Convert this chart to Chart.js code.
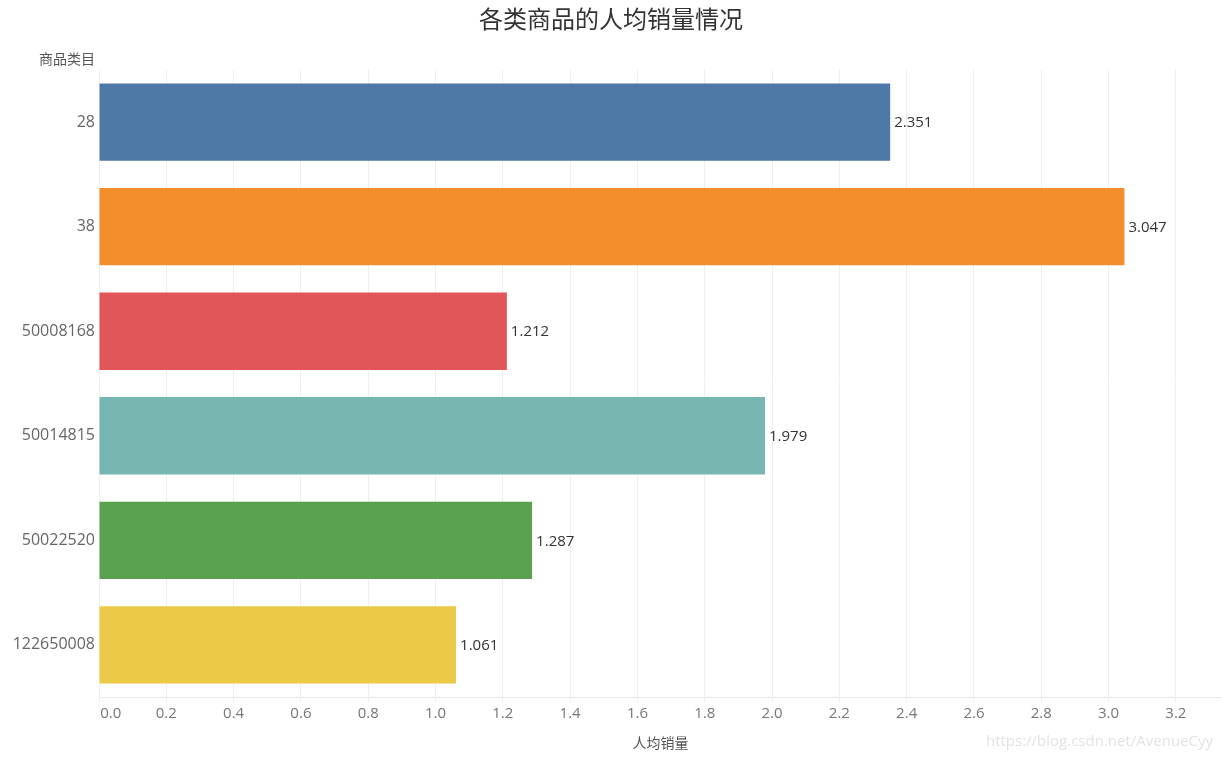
<!DOCTYPE html>
<html>
<head>
<meta charset="utf-8">
<script src="https://cdn.jsdelivr.net/npm/chart.js@4.4.0/dist/chart.umd.min.js"></script>
<style>
  html, body { margin: 0; padding: 0; background: #fff; }
  #wrap { width: 1222px; height: 759px; position: relative; }
</style>
</head>
<body>
<div id="wrap"><canvas id="salesChart"></canvas></div>
<script>
// 商品类目 / 人均销量
var categories = ["28", "38", "50008168", "50014815", "50022520", "122650008"];
var avgSales = [2.351, 3.047, 1.212, 1.979, 1.287, 1.061];
var barColors = ["#4E79A7", "#F28E2B", "#E15759", "#76B7B2", "#59A14F", "#EDC948"];
var xTicks = [0, 0.2, 0.4, 0.6, 0.8, 1.0, 1.2, 1.4, 1.6, 1.8, 2.0, 2.2, 2.4, 2.6, 2.8, 3.0, 3.2];

var fontFamily = "'Open Sans', 'Noto Sans CJK SC', sans-serif";

// 柱子末端的数值标签 + 左上角的类目标题 + 水印
var extraText = {
    id: "extraText",
    afterDatasetsDraw: function(chart) {
        var ctx = chart.ctx;
        var meta = chart.getDatasetMeta(0);
        ctx.save();
        ctx.font = "15px " + fontFamily;
        ctx.fillStyle = "#333";
        ctx.textAlign = "left";
        ctx.textBaseline = "middle";
        meta.data.forEach(function(bar, i) {
            ctx.fillText(avgSales[i].toFixed(3), bar.x + 4, bar.y + 1);
        });

        var yScale = chart.scales.y;
        ctx.font = "14px 'Noto Sans CJK SC', sans-serif";
        ctx.fillStyle = "#555";
        ctx.textAlign = "right";
        ctx.fillText("商品类目", yScale.right - 4, chart.chartArea.top - 11);

        ctx.font = "15px " + fontFamily;
        ctx.fillStyle = "#e3e3e3";
        ctx.fillText("https://blog.csdn.net/AvenueCyy", chart.width - 9, chart.height - 17);
        ctx.restore();
    }
};

new Chart(document.getElementById("salesChart"), {
    type: "bar",
    data: {
        labels: categories,
        datasets: [{
            label: "人均销量",
            data: avgSales,
            backgroundColor: barColors,
            borderWidth: 0,
            barPercentage: 0.74,
            categoryPercentage: 1
        }]
    },
    options: {
        indexAxis: "y",
        responsive: true,
        maintainAspectRatio: false,
        animation: false,
        layout: { padding: { left: 0, right: 0, top: 0, bottom: 0 } },
        plugins: {
            legend: { display: false },
            tooltip: { enabled: false },
            title: {
                display: true,
                text: "各类商品的人均销量情况",
                color: "#333",
                font: { family: "'Noto Sans CJK SC', sans-serif", size: 24, weight: "normal" },
                padding: { top: 4, bottom: 37 }
            }
        },
        scales: {
            x: {
                min: 0,
                max: 3.337,
                afterBuildTicks: function(scale) {
                    scale.ticks = xTicks.map(function(v) { return { value: v }; });
                },
                ticks: {
                    color: "#777",
                    font: { family: fontFamily, size: 15 },
                    padding: 3,
                    callback: function(value) {
                        var s = Number(value).toFixed(1);
                        return value === 0 ? "      " + s : s;
                    }
                },
                grid: { color: "#efefef", tickLength: 5, drawTicks: true },
                border: { color: "#e8e8e8" },
                title: {
                    display: true,
                    text: "人均销量",
                    color: "#555",
                    font: { family: "'Noto Sans CJK SC', sans-serif", size: 14 },
                    padding: { top: 8, bottom: 8 }
                }
            },
            y: {
                afterFit: function(scale) { scale.width = 99; },
                ticks: {
                    color: "#666",
                    font: { family: fontFamily, size: 16 },
                    padding: 4
                },
                grid: { display: false, drawTicks: false },
                border: { display: false }
            }
        }
    },
    plugins: [extraText]
});
</script>
</body>
</html>
